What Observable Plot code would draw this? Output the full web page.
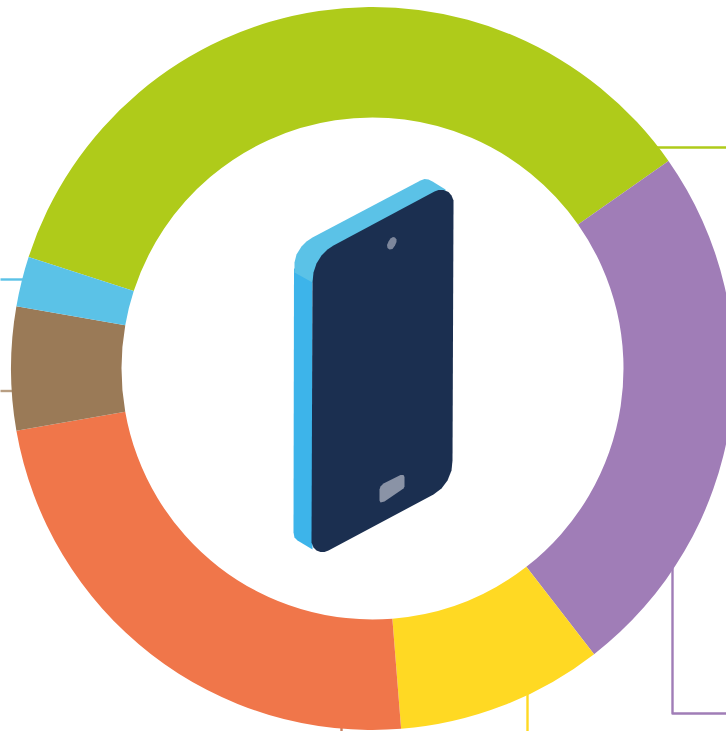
<!DOCTYPE html>
<html>
<head>
<meta charset="utf-8">
<script src="https://cdn.jsdelivr.net/npm/d3@7"></script>
<script src="https://cdn.jsdelivr.net/npm/@observablehq/plot@0.6"></script>
<style>
html,body{margin:0;padding:0;background:#fff;overflow:hidden}
svg{display:block;background:#fff}
</style>
</head>
<body>
<div id="chart"></div>
<script>
// Donut shares (percent), clockwise from the start of the first slice
const categories = ["Slice 1", "Slice 2", "Slice 3", "Slice 4", "Slice 5", "Slice 6"];
const shares = [35.28, 24.23, 9.24, 23.51, 5.51, 2.23];
const colors = ["#afcb1a", "#a07db7", "#ffd923", "#f0764a", "#9a7a57", "#5bc2e7"];
const slices = categories.map((category, i) => ({category, share: shares[i]}));

// Leader lines, in picture units
const leaderGreen = [[650,147],[726,147]];
const leaderCyan = [[0,279],[25,279]];
const leaderBrown = [[0,390.5],[15,390.5]];
const leaderPurple = [[672,565],[672,713],[726,713]];
const leaderYellow = [[527,690],[527,731]];
const leaderOrange = [[341,720],[341,731]];

// Phone illustration outlines, in picture units
const phoneSide = [[293.5,268],[312,270],[312,549],[297,540],[294,537],[293,532]];
const phoneTop = [[294,272],[294,262],[296,254],[301,246],[306,241],[312,237],[420,180],[424,178.5],[428,179],[432,181],[445,189],[445,215],[312,282]];
const phoneBody = [[312,282],[313,272],[316,263],[321,255],[327,249],[333,245],[434,191],[438,189.5],[443,189.5],[448,191.5],[451,195],[453,200],[453,206],[452,460],[451,470],[447,480],[441,488],[433,494],[328,550],[324,551.5],[320,551.5],[316,550],[313,547],[311,542]];
const phoneCamera = [[392.5,236.5],[394.5,237],[396,239],[396,241.5],[394.5,245],[392,248.5],[389,249],[387,247.5],[386.5,244.5],[388,241],[390,238]];
const phoneButton = [[379,489],[380,486],[383,483],[400,474.5],[403,474.5],[404,476.5],[404,486],[403,488],[384,501],[380,502],[379,500]];

const cx = 372.5, cy = 368.5, rOuter = 361.5, rInner = 251, startDegrees = 287.96;
const px = p => p[0], py = p => p[1];

// Stacked bar through the x scale (1 degree = 1 unit), drawn as annular sectors
function donutRender(index, scales, values) {
  const arc = d3.arc().innerRadius(rInner).outerRadius(rOuter);
  const g = d3.create("svg:g").attr("transform", `translate(${cx},${cy})`);
  for (const i of index) {
    g.append("path")
      .attr("fill", values.fill ? values.fill[i] : scales.color(slices[i].category))
      .attr("d", arc({
        startAngle: (startDegrees + values.x1[i]) * Math.PI / 180,
        endAngle: (startDegrees + values.x2[i]) * Math.PI / 180
      }));
  }
  return g.node();
}

const leader = (pts, stroke) => Plot.line(pts, {x: px, y: py, stroke, strokeWidth: 2.4, curve: "linear", strokeLinecap: "butt"});
const shape = (pts, fill) => Plot.line(pts, {x: px, y: py, fill, stroke: "none", curve: "linear"});

const chart = Plot.plot({
  width: 726,
  height: 731,
  margin: 0,
  x: {domain: [0, 726], range: [0, 726], axis: null},
  y: {domain: [0, 731], range: [0, 731], axis: null},
  color: {type: "ordinal", domain: categories, range: colors},
  marks: [
    leader(leaderGreen, colors[0]),
    leader(leaderCyan, colors[5]),
    leader(leaderBrown, "#b89e82"),
    leader(leaderPurple, colors[1]),
    leader(leaderYellow, colors[2]),
    leader(leaderOrange, "#c9805f"),
    Plot.barX(slices, {x: d => d.share * 3.6, fill: "category", render: donutRender}),
    shape(phoneSide, "#3db4ea"),
    shape(phoneTop, "#5bc2e7"),
    shape(phoneBody, "#1b2f50"),
    shape(phoneCamera, "#7d879c"),
    shape(phoneButton, "#8a93a6")
  ]
});
document.getElementById("chart").append(chart);
</script>
</body>
</html>
